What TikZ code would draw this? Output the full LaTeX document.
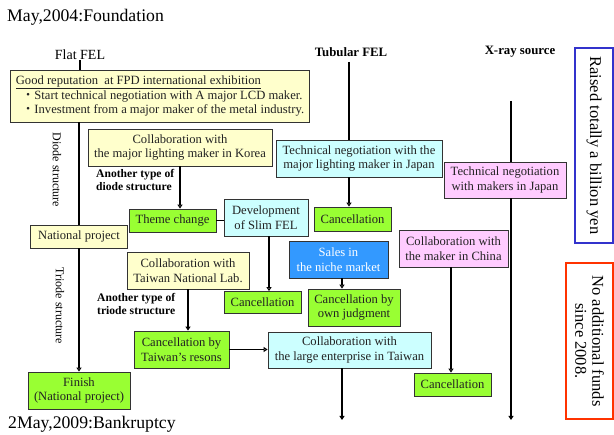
\documentclass[tikz,border=0pt]{standalone}
\usepackage{fontspec}
\setmainfont{Liberation Serif}
\newfontfamily\cjk{Noto Sans CJK JP}
\usetikzlibrary{arrows.meta}
\definecolor{cyel}{HTML}{FFFFCC}
\definecolor{cgrn}{HTML}{99FF33}
\definecolor{ccya}{HTML}{CCFFFF}
\definecolor{cpnk}{HTML}{FFCCFF}
\definecolor{cblu}{HTML}{3399FF}
\definecolor{cbbd}{HTML}{3333CC}
\definecolor{cred}{HTML}{FF3300}
\definecolor{ctxt}{HTML}{222222}
\tikzset{
  box/.style={draw=black!80, line width=0.8pt, inner sep=1pt, align=center, text=ctxt,
    font=\fontsize{12.6}{14.6}\selectfont},
  yel/.style={box, fill=cyel},
  grn/.style={box, fill=cgrn},
  cya/.style={box, fill=ccya},
  pnk/.style={box, fill=cpnk},
  conn/.style={line width=1.6pt},
  arr/.style={conn, -{Triangle[open,length=4pt,width=5pt,line width=1pt]}},
  arrf/.style={conn, -{Triangle[length=4pt,width=5pt]}},
  bold lbl/.style={font=\fontsize{11.6}{13.5}\selectfont\bfseries, align=left, inner sep=0pt},
  side lbl/.style={font=\fontsize{12}{14}\selectfont, rotate=-90, inner sep=0pt},
}
\begin{document}
\begin{tikzpicture}[x=1pt,y=-1pt]
\useasboundingbox (0,0) rectangle (614,435);
% titles
\node[anchor=west, inner sep=0pt, font=\fontsize{17.7}{20}\selectfont] (found) at (7,17) {May,2004:Foundation};
\node[anchor=west, inner sep=0pt, font=\fontsize{17.7}{20}\selectfont] (bank) at (8,424) {2May,2009:Bankruptcy};
\node[inner sep=0pt, font=\fontsize{14}{16}\selectfont] (flat) at (80,55) {Flat FEL};
\node[inner sep=0pt, font=\fontsize{12.8}{14}\selectfont\bfseries] (tub) at (351,52) {Tubular FEL};
\node[inner sep=0pt, font=\fontsize{12.8}{14}\selectfont\bfseries] (xray) at (520,52) {X-ray source};
% boxes
\node[yel, align=left, minimum width=294pt, minimum height=52pt, inner xsep=5pt] (rep) at (160,96)
  {\underline{Good reputation\ \ at FPD international exhibition}\\
   \hspace*{6pt}{\cjk ・}Start technical negotiation with A major LCD maker.\\
   \hspace*{6pt}{\cjk ・}Investment from a major maker of the metal industry.};
\node[yel, minimum width=184pt, minimum height=37pt] (korea) at (180,147.5) {Collaboration with\\the major lighting maker in Korea};
\node[grn, minimum width=87pt, minimum height=23pt] (theme) at (172.5,220.5) {Theme change};
\node[cya, minimum width=84pt, minimum height=37pt] (slim) at (266,217.5) {Development\\of Slim FEL};
\node[yel, minimum width=97pt, minimum height=23pt] (natp) at (79,236.5) {National project};
\node[yel, minimum width=122pt, minimum height=37pt] (twnl) at (188,270.5) {Collaboration with\\Taiwan National Lab.};
\node[grn, minimum width=95pt, minimum height=37pt] (canctw) at (181.5,349.5) {Cancellation by\\Taiwan's resons};
\node[grn, minimum width=102pt, minimum height=37pt] (finish) at (79,390.5) {Finish\\(National project)};
\node[grn, minimum width=77pt, minimum height=22pt] (cancslim) at (262.5,302.5) {Cancellation};
\node[cya, minimum width=166pt, minimum height=37pt] (tubjp) at (359,158.5) {Technical negotiation with the\\major lighting maker in Japan};
\node[grn, minimum width=77pt, minimum height=24pt] (canctub) at (352.5,219) {Cancellation};
\node[box, fill=cblu, text=white, minimum width=99pt, minimum height=37pt] (sales) at (338.5,259.5) {Sales in\\the niche market};
\node[grn, minimum width=92pt, minimum height=37pt] (ownj) at (354,307.5) {Cancellation by\\own judgment};
\node[cya, minimum width=163pt, minimum height=36pt] (largetw) at (349.5,350) {Collaboration with\\the large enterprise in Taiwan};
\node[pnk, minimum width=122pt, minimum height=36pt] (xjp) at (505,180) {Technical negotiation\\with makers in Japan};
\node[pnk, minimum width=109pt, minimum height=37pt] (china) at (453.5,248.5) {Collaboration with\\the maker in China};
\node[grn, minimum width=77pt, minimum height=23pt] (cancchina) at (452.5,384.5) {Cancellation};
% side boxes
\node[draw=cbbd, line width=1.6pt, fill=white, minimum width=38pt, minimum height=195pt, inner sep=0pt] (raised) at (594,145.5) {};
\node[rotate=-90, font=\fontsize{16.5}{19}\selectfont, inner sep=0pt] (raisedt) at (raised.center) {Raised totally a billion yen};
\node[draw=cred, line width=1.6pt, fill=white, minimum width=47pt, minimum height=156pt, inner sep=0pt] (nofund) at (589.5,341) {};
\node[rotate=-90, font=\fontsize{16.5}{17}\selectfont, align=center, inner sep=0pt] (nofundt) at (nofund.center) {No additional funds\\since 2008.};
% labels
\node[bold lbl, anchor=north west] (anodl) at (96,169) {Another type of\\diode structure};
\node[bold lbl, anchor=north west] (antril) at (97,293) {Another type of\\triode structure};
\node[side lbl] (diode) at (57,170) {Diode structure};
\node[side lbl] (triode) at (60,306) {Triode structure};
% coordinates
\coordinate (tubtop) at (349,62);
\coordinate (xtop) at (511,101);
\coordinate (xend) at (511,420);
\coordinate (twend) at (342,420);
% connectors: flat FEL
\draw[conn] (flat.south) -- (flat.south |- rep.north);
\draw[conn] (rep.south -| natp.north) -- (natp.north);
\draw[arr] (natp.south) -- (finish.north);
\draw[arr] (korea.south) -- (korea.south |- theme.north);
\draw[conn] (theme.east) -- (theme.east -| slim.west);
\draw[arr] ([xshift=3pt]slim.south) -- ([xshift=3pt]slim.south |- cancslim.north);
\draw[arrf] (twnl.south) -- (twnl.south |- canctw.north);
\draw[arr] (canctw.east) -- (canctw.east -| largetw.west);
\draw[arrf] (twend |- largetw.south) -- (twend);
% tubular
\draw[conn] (tubtop) -- (tubtop |- tubjp.north);
\draw[arr] (tubtop |- tubjp.south) -- (tubtop |- canctub.north);
\draw[arr] (twend |- sales.south) -- (twend |- ownj.north);
% x-ray
\draw[conn] (xtop) -- (xtop |- xjp.north);
\draw[arrf] (xtop |- xjp.south) -- (xend);
\draw[arr] ([xshift=-2.5pt]china.south) -- ([xshift=-2.5pt]china.south |- cancchina.north);
\end{tikzpicture}
\end{document}
